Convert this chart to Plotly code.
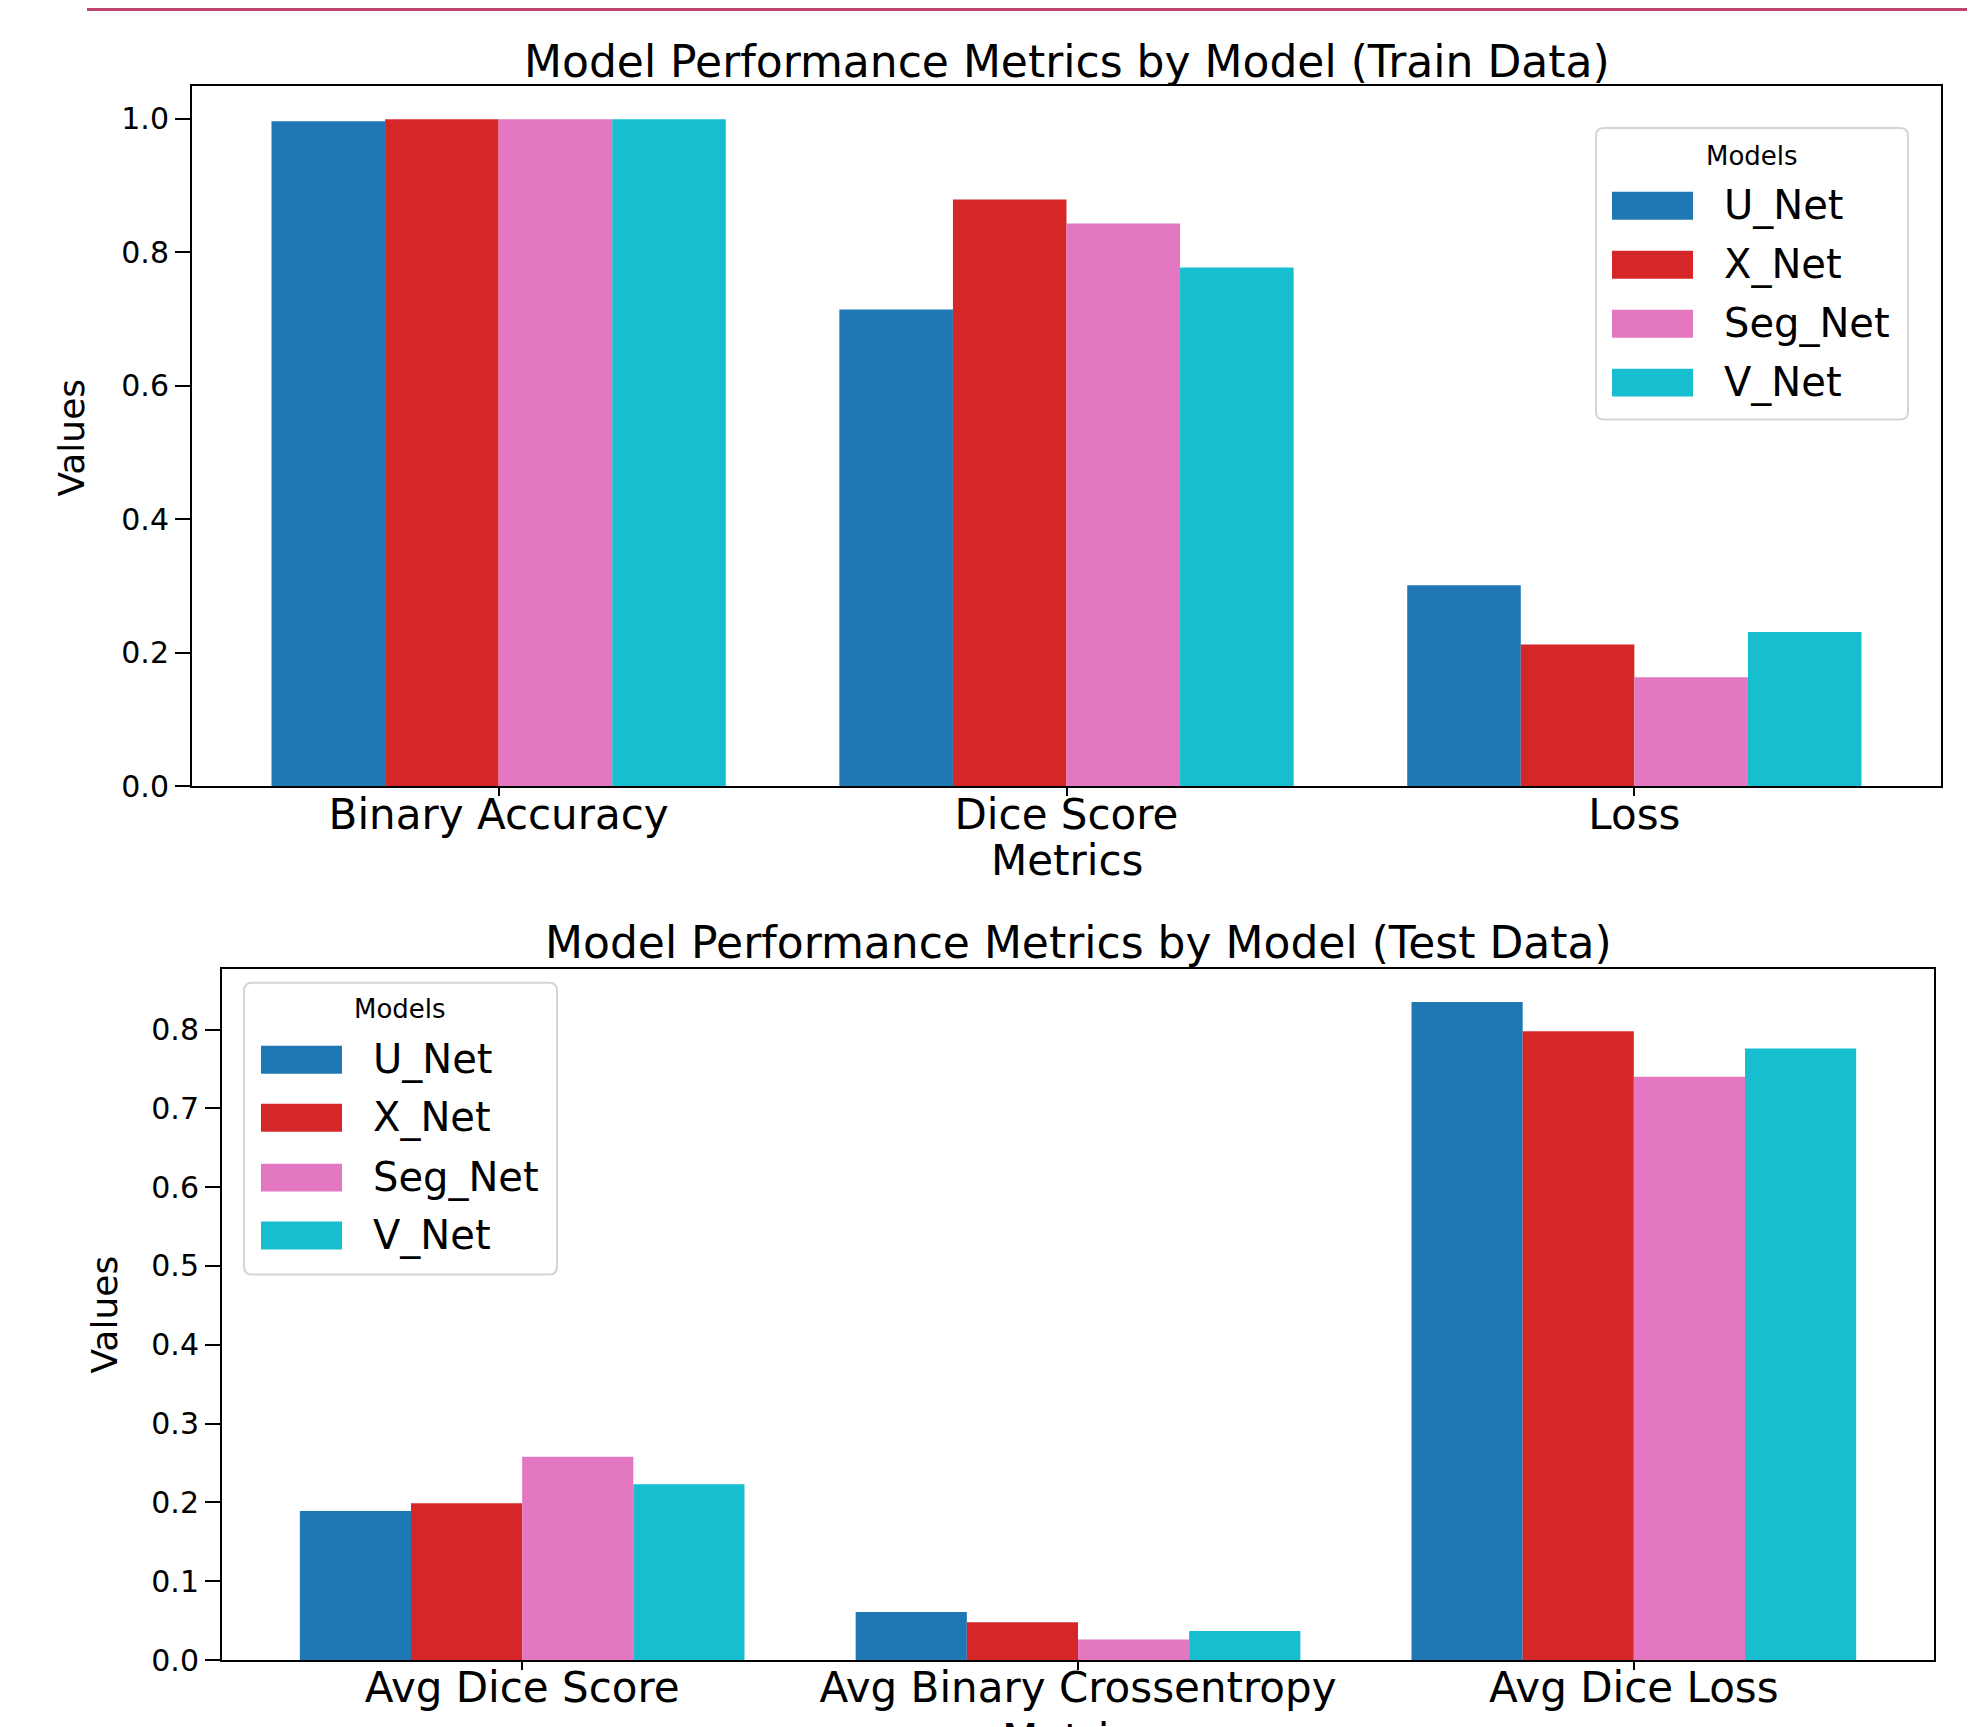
import plotly.graph_objects as go

OFF = 8          # default body margin of the html page
KY = 0.9908      # vertical scale observed in the photographed page
W, H = 1985 - 2 * OFF, 1727

models = ["U_Net", "X_Net", "Seg_Net", "V_Net"]
colors = ["#1f77b4", "#d62728", "#e377c2", "#17becf"]

train_metrics = ["Binary Accuracy", "Dice Score", "Loss"]
train_values = {
    "U_Net": [0.996, 0.714, 0.301],
    "X_Net": [0.999, 0.879, 0.212],
    "Seg_Net": [0.999, 0.843, 0.163],
    "V_Net": [0.999, 0.777, 0.231],
}

test_metrics = ["Avg Dice Score", "Avg Binary Crossentropy", "Avg Dice Loss"]
test_values = {
    "U_Net": [0.189, 0.061, 0.835],
    "X_Net": [0.199, 0.048, 0.798],
    "Seg_Net": [0.258, 0.026, 0.740],
    "V_Net": [0.223, 0.037, 0.776],
}

train_ticks = [0.0, 0.2, 0.4, 0.6, 0.8, 1.0]
test_ticks = [0.0, 0.1, 0.2, 0.3, 0.4, 0.5, 0.6, 0.7, 0.8]

FONT = "DejaVu Sans"
bar_w = 0.2

fig = go.Figure()

for i, m in enumerate(models):
    off = (i - 1.5) * bar_w
    fig.add_trace(go.Bar(
        x=list(range(len(train_metrics))), y=train_values[m], name=m,
        marker=dict(color=colors[i], line=dict(width=0)),
        width=bar_w, offset=off - bar_w / 2,
        xaxis="x", yaxis="y", showlegend=False,
    ))
    fig.add_trace(go.Bar(
        x=list(range(len(test_metrics))), y=test_values[m], name=m,
        marker=dict(color=colors[i], line=dict(width=0)),
        width=bar_w, offset=off - bar_w / 2,
        xaxis="x2", yaxis="y2", showlegend=False,
    ))


def px(x):
    return (x - OFF) / W


def py(y):
    return 1 - (y / KY - OFF) / H


axis_common = dict(
    showline=True, linecolor="black", linewidth=2, mirror=True,
    showgrid=False, zeroline=False, ticks="outside",
    tickwidth=2, tickcolor="black",
)
xaxis_style = dict(ticklen=8, tickfont=dict(size=42, family=FONT),
                   ticklabelstandoff=-18, **axis_common)
yaxis_style = dict(ticklen=15, tickfont=dict(size=30, family=FONT), **axis_common)

top_dom_x = [px(192), px(1941)]
top_dom_y = [py(787), py(86)]
bot_dom_x = [px(222), px(1934)]
bot_dom_y = [py(1662), py(970)]

fig.update_layout(
    width=W, height=H,
    margin=dict(l=0, r=0, t=0, b=0),
    paper_bgcolor="white", plot_bgcolor="white",
    barmode="overlay",
    showlegend=False,
    font=dict(family=FONT, color="black"),
    xaxis=dict(domain=top_dom_x, anchor="y", range=[-0.54, 2.54],
               tickvals=list(range(len(train_metrics))), ticktext=train_metrics,
               **xaxis_style),
    yaxis=dict(domain=top_dom_y, anchor="x", range=[0, 1.049],
               tickvals=train_ticks, ticktext=[f"{v:.1f}" for v in train_ticks],
               **yaxis_style),
    xaxis2=dict(domain=bot_dom_x, anchor="y2", range=[-0.54, 2.54],
                tickvals=list(range(len(test_metrics))), ticktext=test_metrics,
                **xaxis_style),
    yaxis2=dict(domain=bot_dom_y, anchor="x2", range=[0, 0.877],
                tickvals=test_ticks, ticktext=[f"{v:.1f}" for v in test_ticks],
                **yaxis_style),
)

shapes = []
annotations = []

# thin accent line at the very top
shapes.append(dict(type="line", xref="paper", yref="paper",
                   x0=px(87), x1=px(1967), y0=py((OFF + 1.5) * KY), y1=py((OFF + 1.5) * KY),
                   line=dict(color="#c0456a", width=3)))

# titles
annotations.append(dict(text="Model Performance Metrics by Model (Train Data)",
                        xref="paper", yref="paper", x=(top_dom_x[0] + top_dom_x[1]) / 2,
                        y=py(61), xanchor="center", yanchor="middle", showarrow=False,
                        font=dict(size=44, family=FONT)))
annotations.append(dict(text="Model Performance Metrics by Model (Test Data)",
                        xref="paper", yref="paper", x=(bot_dom_x[0] + bot_dom_x[1]) / 2,
                        y=py(944), xanchor="center", yanchor="middle", showarrow=False,
                        font=dict(size=44, family=FONT)))

# axis titles
annotations.append(dict(text="Metrics", xref="paper", yref="paper",
                        x=(top_dom_x[0] + top_dom_x[1]) / 2, y=py(861),
                        xanchor="center", yanchor="middle", showarrow=False,
                        font=dict(size=42, family=FONT)))
annotations.append(dict(text="Metrics", xref="paper", yref="paper",
                        x=(bot_dom_x[0] + bot_dom_x[1]) / 2, y=py(1742),
                        xanchor="center", yanchor="middle", showarrow=False,
                        font=dict(size=42, family=FONT)))
annotations.append(dict(text="Values", xref="paper", yref="paper",
                        x=px(72), y=py(438), textangle=-90,
                        xanchor="center", yanchor="middle", showarrow=False,
                        font=dict(size=36, family=FONT)))
annotations.append(dict(text="Values", xref="paper", yref="paper",
                        x=px(104), y=py(1316), textangle=-90,
                        xanchor="center", yanchor="middle", showarrow=False,
                        font=dict(size=36, family=FONT)))


def rounded_box(x0, y0, x1, y1, r=8):
    def P(x, y):
        return f"{px(x)},{py(y)}"
    return (f"M {P(x0 + r, y0)} L {P(x1 - r, y0)} Q {P(x1, y0)} {P(x1, y0 + r)} "
            f"L {P(x1, y1 - r)} Q {P(x1, y1)} {P(x1 - r, y1)} "
            f"L {P(x0 + r, y1)} Q {P(x0, y1)} {P(x0, y1 - r)} "
            f"L {P(x0, y0 + r)} Q {P(x0, y0)} {P(x0 + r, y0)} Z")


def add_legend(box, title_xy, sw_x, text_x, item_ys):
    shapes.append(dict(type="path", xref="paper", yref="paper",
                       path=rounded_box(*box), fillcolor="rgba(255,255,255,0.85)",
                       line=dict(color="#d4d4d4", width=2)))
    annotations.append(dict(text="Models", xref="paper", yref="paper",
                            x=px(title_xy[0]), y=py(title_xy[1]),
                            xanchor="center", yanchor="middle", showarrow=False,
                            font=dict(size=26, family=FONT)))
    for m, c, yy in zip(models, colors, item_ys):
        shapes.append(dict(type="rect", xref="paper", yref="paper",
                           x0=px(sw_x[0]), x1=px(sw_x[1]),
                           y0=py(yy + 14), y1=py(yy - 14),
                           fillcolor=c, line=dict(width=0)))
        annotations.append(dict(text=m, xref="paper", yref="paper",
                                x=px(text_x), y=py(yy), xanchor="left", yanchor="middle",
                                showarrow=False, font=dict(size=40, family=FONT)))


add_legend((1596, 128, 1908, 420), (1752, 156), (1612, 1693), 1722, [206, 265, 324, 383])
add_legend((244, 984, 557, 1276), (400, 1010), (261, 342), 371, [1061, 1119, 1179, 1237])

fig.update_layout(shapes=shapes, annotations=annotations)

fig.write_html("out.html")
